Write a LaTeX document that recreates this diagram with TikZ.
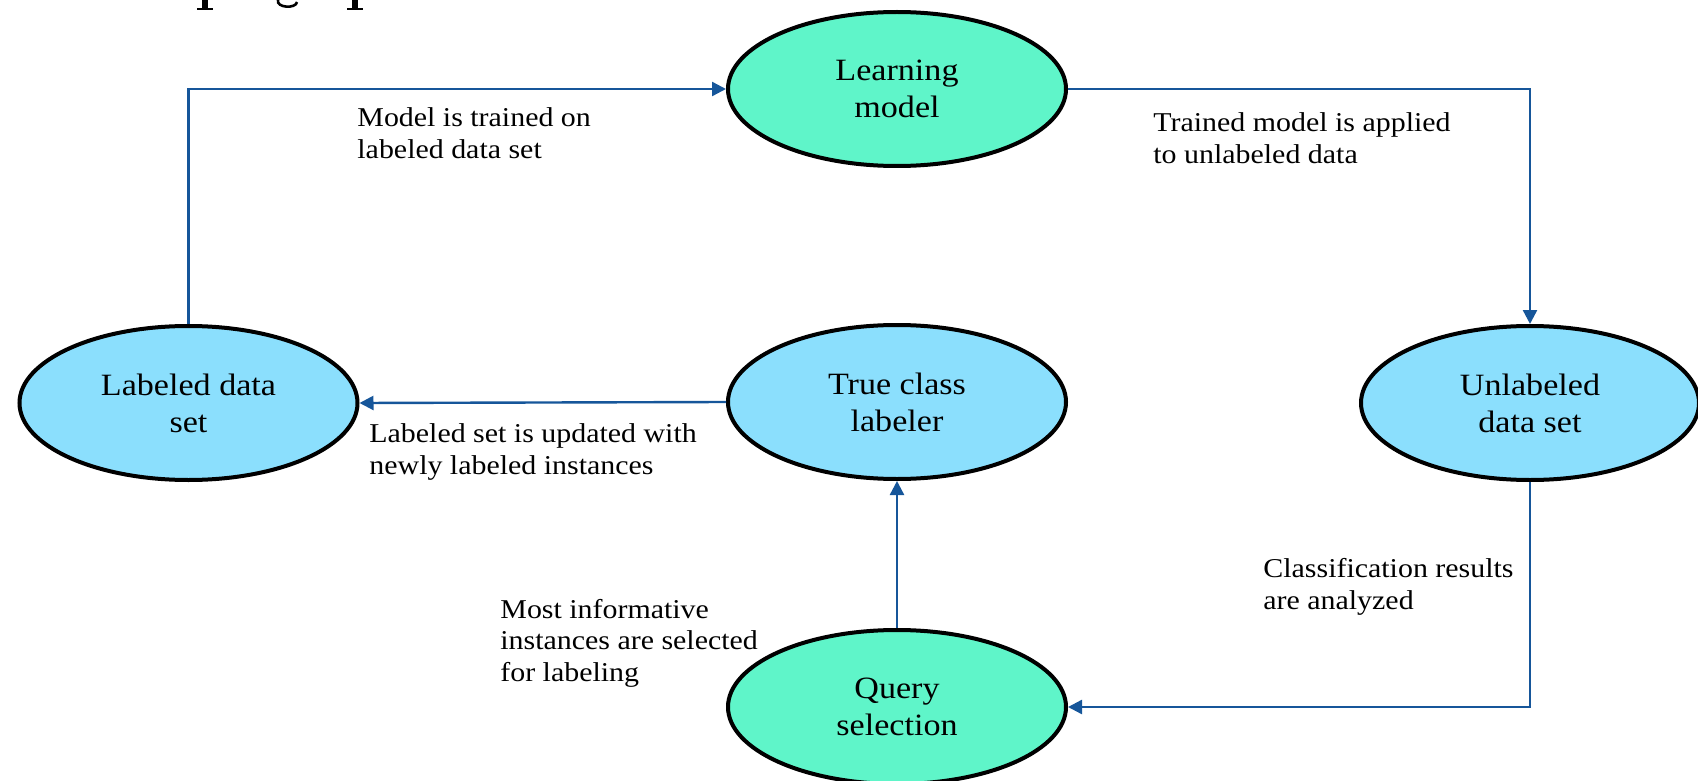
\documentclass[tikz,border=0pt]{standalone}
\usepackage{fontspec}
\setmainfont{Liberation Serif}[FakeStretch=1.1]
\usetikzlibrary{shapes.geometric,arrows.meta}

\definecolor{flowblue}{RGB}{22,86,154}
\definecolor{tealfill}{RGB}{95,245,201}
\definecolor{skyfill}{RGB}{139,223,253}

\begin{document}
\begin{tikzpicture}[x=0.5pt,y=-0.5pt,
  stage/.style={ellipse,draw=black,line width=2pt,minimum width=169pt,
    minimum height=77pt,inner sep=0pt,align=center,
    font=\fontsize{15.5}{18.4}\selectfont},
  flow/.style={draw=flowblue,line width=1.2pt,
    -{Triangle[length=7pt,width=7pt]}},
  note/.style={anchor=base west,align=left,inner sep=0pt,
    font=\fontsize{13.6}{15.85}\selectfont}]
  \useasboundingbox (0,0) rectangle (1698,781);
  \clip (0,0) rectangle (1698,781);

  % descenders of the heading above the frame
  \fill (202,0) rectangle (208,9);
  \fill (197,8) rectangle (213,10.5);
  \draw[line width=1.3pt] (278,0) .. controls (276,8) and (296,9) .. (297,2);
  \fill (352,0) rectangle (358,9);
  \fill (347,8) rectangle (363,10.5);

  % stages of the loop
  \node[stage,fill=tealfill] (learn) at (897,89) {Learning\\model};
  \node[stage,fill=skyfill] (lab) at (188.5,403) {Labeled data\\set};
  \node[stage,fill=skyfill] (true) at (897,402) {True class\\labeler};
  \node[stage,fill=skyfill] (unl) at (1530,403) {Unlabeled\\data set};
  \node[stage,fill=tealfill] (query) at (897,707) {Query\\selection};

  % connectors
  \draw[flow] (lab.north) |- (learn.west);
  \draw[flow] (learn.east) -| (unl.north);
  \draw[flow] (unl.south) |- (query.east);
  \draw[flow] (query.north) -- (true.south);
  \draw[flow] (true.west) -- (lab.east);

  % step descriptions (anchored on the baseline of the last line)
  \node[note] (n1) at (357,158.5) {Model is trained on\\labeled data set};
  \node[note] (n2) at (1153,163.5) {Trained model is applied\\to unlabeled data};
  \node[note] (n3) at (369,474.5) {Labeled set is updated with\\newly labeled instances};
  \node[note] (n4) at (500,681.5) {Most informative\\instances are selected\\for labeling};
  \node[note] (n5) at (1263,609.5) {Classification results\\are analyzed};
\end{tikzpicture}
\end{document}
